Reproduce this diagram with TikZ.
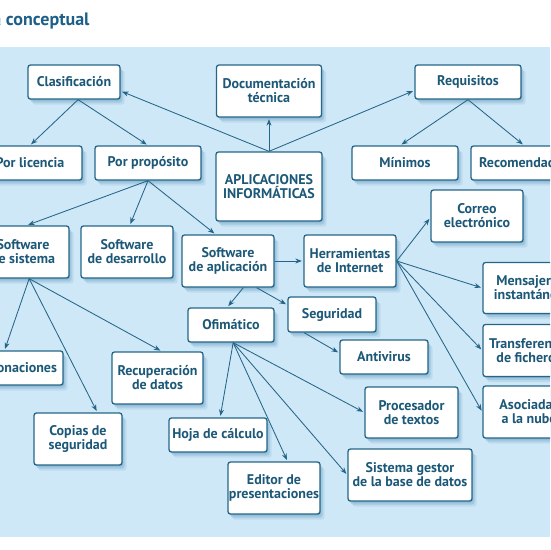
\documentclass[tikz,border=0pt]{standalone}
\usepackage{fontspec}
\setmainfont{PT Sans}
\usetikzlibrary{shadows,arrows.meta}
\definecolor{bgblue}{HTML}{CFE8F7}
\definecolor{ink}{HTML}{1C5878}
\definecolor{edgec}{HTML}{256688}
\definecolor{shadowc}{HTML}{4A8AB6}
\definecolor{titlec}{HTML}{1D5F86}
\begin{document}
\begin{tikzpicture}[x=1pt,y=-1pt,
  box/.style={draw=edgec, line width=1.3pt, fill=white, rounded corners=2.5pt,
    align=center, text=ink, font=\fontsize{14}{14}\selectfont\bfseries, inner sep=0pt,
    drop shadow={shadow xshift=1pt,shadow yshift=-1.5pt,fill=shadowc,opacity=.28},
    drop shadow={shadow xshift=2.5pt,shadow yshift=-3.5pt,fill=shadowc,opacity=.22},
    drop shadow={shadow xshift=4.5pt,shadow yshift=-5.5pt,fill=shadowc,opacity=.14}},
  arr/.style={draw=edgec, line width=0.85pt, -{Stealth[length=6.5pt,width=5pt]}, shorten >=1.5pt}]
\useasboundingbox (0,0) rectangle (550,550);
\clip (0,0) rectangle (550,550);
\fill[bgblue] (0,47) rectangle (550,537);
\node[anchor=base east, text=titlec, font=\fontsize{18}{20}\selectfont\bfseries] (title) at (93,25) {Mapa conceptual};

\node[box, minimum width=92pt, minimum height=34pt] (clas) at (74,82) {Clasificación};
\node[box, minimum width=105pt, minimum height=52pt] (doc) at (269,91) {Documentación\\técnica};
\node[box, minimum width=106pt, minimum height=34pt] (req) at (468,82) {Requisitos};
\node[box, minimum width=104pt, minimum height=34pt] (lic) at (30,163) {Por licencia};
\node[box, minimum width=106pt, minimum height=34pt] (prop) at (148,163) {Por propósito};
\node[box, minimum width=106pt, minimum height=69pt] (apl) at (269,186.5) {APLICACIONES\\INFORMÁTICAS};
\node[box, minimum width=106pt, minimum height=34pt] (min) at (405,163) {Mínimos};
\node[box, minimum width=106pt, minimum height=34pt] (rec) at (524,163) {Recomendados};
\node[box, minimum width=92pt, minimum height=52pt] (correo) at (477,216) {Correo\\electrónico};
\node[box, minimum width=92pt, minimum height=52pt] (sis) at (23,252) {Software\\de sistema};
\node[box, minimum width=92pt, minimum height=52pt] (des) at (127,252) {Software\\de desarrollo};
\node[box, minimum width=92pt, minimum height=52pt] (aplic) at (228,261) {Software\\de aplicación};
\node[box, minimum width=92pt, minimum height=52pt] (herr) at (350,261) {Herramientas\\de Internet};
\node[box, minimum width=86pt, minimum height=34pt] (ofi) at (231,325) {Ofimático};
\node[box, minimum width=88pt, minimum height=35pt] (seg) at (332,314.5) {Seguridad};
\node[box, minimum width=88pt, minimum height=34pt] (anti) at (384,357) {Antivirus};
\node[box, minimum width=92pt, minimum height=51pt] (mens) at (529,288) {Mensajería\\instantánea};
\node[box, minimum width=92pt, minimum height=52pt] (trans) at (529,350.5) {Transferencia\\de ficheros};
\node[box, minimum width=92pt, minimum height=52pt] (asoc) at (529,412) {Asociadas\\a la nube};
\node[box, minimum width=84pt, minimum height=34pt] (clon) at (21,368) {Clonaciones};
\node[box, minimum width=91pt, minimum height=52pt] (recu) at (157.5,378) {Recuperación\\de datos};
\node[box, minimum width=88pt, minimum height=52pt] (copias) at (78,439) {Copias de\\seguridad};
\node[box, minimum width=98pt, minimum height=34pt] (hoja) at (218,435) {Hoja de cálculo};
\node[box, minimum width=92pt, minimum height=52pt] (editor) at (274,488) {Editor de\\presentaciones};
\node[box, minimum width=93pt, minimum height=51pt] (proc) at (411.5,412.5) {Procesador\\de textos};
\node[box, minimum width=124pt, minimum height=52pt] (sgbd) at (410,475) {Sistema gestor\\de la base de datos};

\draw[arr] (apl.north) -- (clas.-11);
\draw[arr] (apl.north) -- (doc.south);
\draw[arr] (apl.north) -- (req.189);
\draw[arr] (clas.-77) -- (lic.north);
\draw[arr] (clas.-77) -- (prop.north);
\draw[arr] (req.south) -- (min.105);
\draw[arr] (req.south) -- (rec.north);
\draw[arr] (prop.south) -- (sis.82);
\draw[arr] (prop.south) -- (des.84);
\draw[arr] (prop.south) -- (aplic.115);
\draw[arr] (aplic.east) -- (herr.west);
\draw[arr] (aplic.-60) -- (ofi.102);
\draw[arr] (aplic.-43) -- (seg.168);
\draw[arr] (seg.213) -- (anti.175);
\draw[arr] (herr.east) -- (correo.182);
\draw[arr] (herr.east) -- (mens.west);
\draw[arr] (herr.east) -- (trans.west);
\draw[arr] (herr.east) -- (asoc.west);
\draw[arr] (sis.-77) -- (clon.133);
\draw[arr] (sis.-77) -- (copias.54);
\draw[arr] (sis.-77) -- (recu.81);
\draw[arr] (ofi.-83) -- (hoja.83);
\draw[arr] (ofi.-83) -- (editor.63);
\draw[arr] (ofi.-83) -- (sgbd.west);
\draw[arr] (ofi.-83) -- (proc.west);
\end{tikzpicture}
\end{document}
